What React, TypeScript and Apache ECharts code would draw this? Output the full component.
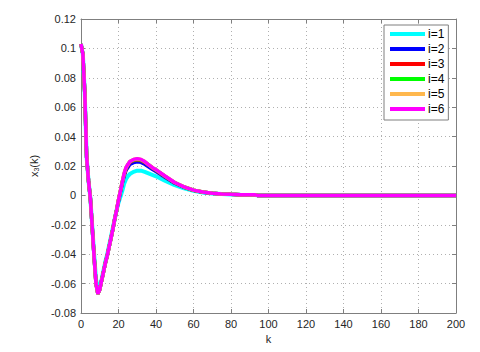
import React, { useEffect, useRef } from "react";
import * as echarts from "echarts";

const kValues = [0,1,2,3,4,5,6,7,8,9,10,11,12,13,14,15,16,17,18,19,20,21,22,23,24,25,26,28,30,32,34,36,38,40,45,50,55,60,65,70,75,80,85,90,93,94,200];

const x3_i1 = [0.103,0.096,0.07,0.026,0.01,-0.002,-0.021,-0.04,-0.057,-0.064,-0.062,-0.057,-0.051,-0.045,-0.04,-0.034,-0.028,-0.022,-0.016,-0.01,-0.005,-0.001,0.003,0.008,0.011,0.013,0.0145,0.016,0.0168,0.0168,0.016,0.015,0.014,0.013,0.0098,0.007,0.0048,0.0031,0.002,0.0013,0.0009,0.0006,0.0004,0.0003,0.0003,0,0];
const x3_i2 = [0.103,0.096,0.07,0.026,0.01,-0.002,-0.022,-0.042,-0.06,-0.067,-0.064,-0.058,-0.052,-0.046,-0.041,-0.035,-0.029,-0.023,-0.016,-0.01,-0.004,0.002,0.008,0.013,0.017,0.019,0.021,0.0223,0.0228,0.0225,0.0212,0.0195,0.0178,0.0163,0.0122,0.0083,0.0055,0.0034,0.0022,0.0014,0.001,0.0007,0.0005,0.0004,0.0004,0,0];
const x3_i3 = [0.103,0.096,0.07,0.026,0.01,-0.002,-0.022,-0.042,-0.06,-0.067,-0.064,-0.058,-0.052,-0.046,-0.041,-0.035,-0.029,-0.023,-0.016,-0.01,-0.003,0.003,0.009,0.014,0.018,0.0205,0.0225,0.0238,0.0242,0.0238,0.0225,0.0207,0.0187,0.0171,0.0127,0.0086,0.0057,0.0035,0.0023,0.0015,0.001,0.0007,0.0005,0.0004,0.0004,0,0];
const x3_i4 = [0.103,0.096,0.07,0.026,0.01,-0.002,-0.022,-0.042,-0.06,-0.067,-0.064,-0.058,-0.052,-0.046,-0.041,-0.035,-0.029,-0.023,-0.016,-0.01,-0.003,0.003,0.009,0.0145,0.0185,0.021,0.0228,0.0241,0.0246,0.0241,0.0228,0.0209,0.0189,0.0173,0.0129,0.0087,0.0057,0.0035,0.0023,0.0015,0.001,0.0007,0.0005,0.0004,0.0004,0,0];
const x3_i5 = [0.103,0.096,0.07,0.026,0.01,-0.002,-0.022,-0.042,-0.06,-0.067,-0.064,-0.058,-0.052,-0.046,-0.041,-0.035,-0.029,-0.023,-0.016,-0.01,-0.003,0.003,0.009,0.015,0.019,0.021,0.023,0.0244,0.0249,0.0244,0.023,0.021,0.019,0.0174,0.013,0.0088,0.0058,0.0036,0.0023,0.0015,0.001,0.0007,0.0005,0.0004,0.0004,0,0];
const x3_i6 = [0.103,0.096,0.07,0.026,0.01,-0.002,-0.022,-0.042,-0.06,-0.067,-0.064,-0.058,-0.052,-0.046,-0.041,-0.035,-0.029,-0.023,-0.016,-0.01,-0.003,0.003,0.009,0.015,0.019,0.021,0.023,0.0245,0.025,0.0245,0.023,0.021,0.019,0.0175,0.013,0.0088,0.0058,0.0036,0.0023,0.0015,0.001,0.0007,0.0005,0.0004,0.0004,0,0];

const seriesNames = ["i=1", "i=2", "i=3", "i=4", "i=5", "i=6"];
const seriesValues = [x3_i1, x3_i2, x3_i3, x3_i4, x3_i5, x3_i6];
const seriesColors = ["#00ffff", "#0000ff", "#ff0000", "#00ff00", "#ffb84d", "#ff00ff"];

export default function App() {
  const ref = useRef<HTMLDivElement>(null);
  useEffect(() => {
    if (!ref.current) return;
    const chart = echarts.init(ref.current, null, { renderer: "svg" });
    const font = "Liberation Sans, Arial, sans-serif";
    const frameColor = "#7f7f7f";
    const gridLine = { show: true, lineStyle: { color: "#b0b0b0", type: [1, 3] as any, width: 1 } };
    chart.setOption({
      animation: false,
      backgroundColor: "#ffffff",
      textStyle: { fontFamily: font },
      grid: { left: 81, top: 19, right: 24, bottom: 39, containLabel: false },
      legend: {
        orient: "vertical",
        left: 384,
        top: 25,
        data: seriesNames,
        icon: "rect",
        itemWidth: 35,
        itemHeight: 4,
        itemGap: 3,
        padding: [3, 4, 5, 6],
        borderColor: "#7f7f7f",
        borderWidth: 1,
        backgroundColor: "#ffffff",
        textStyle: { fontSize: 12, color: "#000", fontFamily: font, padding: [0, 0, 0, -2] },
      },
      xAxis: [
        {
          type: "value", min: 0, max: 200, interval: 20,
          name: "k", nameLocation: "middle", nameGap: 20,
          nameTextStyle: { fontSize: 11, color: "#262626" },
          axisLine: { show: true, onZero: false, lineStyle: { color: frameColor } },
          axisTick: { show: true, inside: true, length: 4, lineStyle: { color: frameColor } },
          axisLabel: { fontSize: 11, color: "#262626", margin: 5 },
          splitLine: gridLine,
        },
        {
          type: "value", min: 0, max: 200, interval: 20, position: "top",
          axisLine: { show: true, onZero: false, lineStyle: { color: frameColor } },
          axisTick: { show: true, inside: true, length: 4, lineStyle: { color: frameColor } },
          axisLabel: { show: false },
          splitLine: { show: false },
        },
      ],
      yAxis: [
        {
          type: "value", min: -0.08, max: 0.12, interval: 0.02,
          name: "x{sub|3}(k)", nameLocation: "middle", nameGap: 38, nameRotate: 90,
          nameTextStyle: { fontSize: 11, color: "#262626", rich: { sub: { fontSize: 7, verticalAlign: "bottom", padding: [6, 0, 0, 0] } } },
          axisLine: { show: true, onZero: false, lineStyle: { color: frameColor } },
          axisTick: { show: true, inside: true, length: 4, lineStyle: { color: frameColor } },
          axisLabel: { fontSize: 11, color: "#262626", margin: 5, formatter: (v: number) => String(Number(v.toFixed(2))) },
          splitLine: gridLine,
        },
        {
          type: "value", min: -0.08, max: 0.12, interval: 0.02, position: "right",
          axisLine: { show: true, onZero: false, lineStyle: { color: frameColor } },
          axisTick: { show: true, inside: true, length: 4, lineStyle: { color: frameColor } },
          axisLabel: { show: false },
          splitLine: { show: false },
        },
      ],
      series: seriesNames.map((name, i) => ({
        name,
        type: "line",
        xAxisIndex: 0,
        yAxisIndex: 0,
        showSymbol: false,
        symbol: "none",
        color: seriesColors[i],
        lineStyle: { width: i === 0 ? 4 : 3.5, color: seriesColors[i] },
        data: kValues.map((k, j) => [k, seriesValues[i][j]]),
      })),
    });
    return () => chart.dispose();
  }, []);
  return <div ref={ref} style={{ position: "absolute", left: 0, top: 0, width: 480, height: 352 }} />;
}
